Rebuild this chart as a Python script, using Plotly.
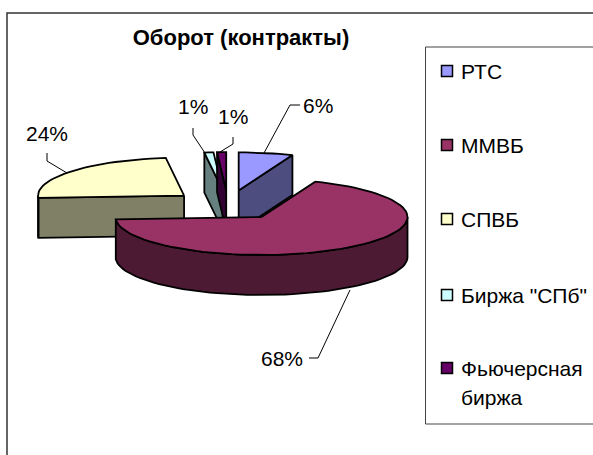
import math
import plotly.graph_objects as go

categories = ["РТС", "ММВБ", "СПВБ", 'Биржа "СПб"', "Фьючерсная<br>биржа"]
shares = [6, 68, 24, 1, 1]
percent_labels = ["6%", "68%", "24%", "1%", "1%"]
top_colors = ["#9999ff", "#993366", "#ffffcc", "#ccffff", "#660066"]
side_colors = ["#4d4d80", "#4d1a33", "#808066", "#668080", "#330033"]

# Pie geometry in pixels
CX, CY, RX, RY, DEPTH, EXPLODE = 228, 205, 146, 38, 40, 57
LINE = 1.8

fig = go.Figure()


def add_poly(pts, color, name):
    xs = [p[0] for p in pts] + [pts[0][0]]
    ys = [p[1] for p in pts] + [pts[0][1]]
    fig.add_trace(go.Scatter(x=xs, y=ys, mode="lines", fill="toself", fillcolor=color,
                             line=dict(color="black", width=LINE), name=name,
                             hoverinfo="name", showlegend=False))


def arc(ax, ay, t0, t1, dz=0):
    n = max(2, int(abs(t1 - t0) / 3) + 2)
    out = []
    for i in range(n):
        t = math.radians(t0 + (t1 - t0) * i / (n - 1))
        out.append((ax + RX * math.sin(t), ay - RY * math.cos(t) + dz))
    return out


# slice angles, clockwise from 12 o'clock
total = sum(shares)
angles = []
acc = 0
for v in shares:
    a0 = acc / total * 360
    acc += v
    angles.append((a0, acc / total * 360))

# painter's order: back slices first, front slice last
for i in [2, 3, 4, 0, 1]:
    t0, t1 = angles[i]
    mid = math.radians((t0 + t1) / 2)
    ax = CX + EXPLODE * math.sin(mid)
    ay = CY - EXPLODE * RY / RX * math.cos(mid)
    name = categories[i].replace("<br>", " ")
    # only the cut faces turned towards the viewer
    faces = []
    if math.sin(math.radians(t0)) < -1e-6:
        faces.append(t0)
    if math.sin(math.radians(t1)) > 1e-6:
        faces.append(t1)
    for t in faces:
        p = arc(ax, ay, t, t)[0]
        add_poly([(ax, ay), p, (p[0], p[1] + DEPTH), (ax, ay + DEPTH)], side_colors[i], name)
    w0, w1 = max(t0, 90), min(t1, 270)
    if w1 > w0:
        upper = arc(ax, ay, w0, w1)
        lower = arc(ax, ay, w1, w0, DEPTH)
        add_poly(upper + lower, side_colors[i], name)
    add_poly([(ax, ay)] + arc(ax, ay, t0, t1), top_colors[i], name)

# leader lines
leaders = [
    [(264, 153), (290, 105), (300, 105)],
    [(350, 290), (318, 358), (309, 358)],
    [(67, 173), (47, 161), (47, 153)],
    [(205, 153), (193, 135), (193, 128)],
    [(220, 152), (233, 144), (233, 137)],
]
for pts in leaders:
    fig.add_trace(go.Scatter(x=[p[0] for p in pts], y=[p[1] for p in pts], mode="lines",
                             line=dict(color="black", width=1), hoverinfo="skip", showlegend=False))

# percent labels
label_pos = [(318, 105), (282, 358), (47, 133), (193, 106), (233, 116)]
annotations = []
for txt, (x, y) in zip(percent_labels, label_pos):
    annotations.append(dict(x=x, y=y, text=txt, showarrow=False, xanchor="center", yanchor="middle",
                            font=dict(family="Liberation Sans", size=21, color="black")))

# legend rows
legend_y = [71, 145, 219, 295, 368]
fig.add_trace(go.Scatter(x=[447] * 5, y=legend_y, mode="markers",
                         marker=dict(symbol="square", size=11, color=top_colors,
                                     line=dict(color="black", width=1.5)),
                         hoverinfo="skip", showlegend=False))
for txt, y in zip(categories, legend_y):
    annotations.append(dict(x=459, y=y, text=txt.split("<br>")[0], showarrow=False, xanchor="left",
                            yanchor="middle", font=dict(family="Liberation Sans", size=21, color="black")))
annotations.append(dict(x=459, y=397, text="биржа", showarrow=False, xanchor="left", yanchor="middle",
                        font=dict(family="Liberation Sans", size=21, color="black")))

fig.update_layout(
    width=593, height=455, margin=dict(l=0, r=0, t=0, b=0),
    paper_bgcolor="white", plot_bgcolor="white", showlegend=False,
    title=dict(text="<b>Оборот (контракты)</b>", x=241 / 593, y=1 - 37 / 455, xanchor="center", yanchor="middle",
               font=dict(family="Liberation Sans", size=22, color="black")),
    xaxis=dict(range=[0, 593], visible=False, fixedrange=True),
    yaxis=dict(range=[455, 0], visible=False, fixedrange=True),
    annotations=annotations,
    shapes=[
        dict(type="rect", x0=7, y0=13, x1=600, y1=470, line=dict(color="#333333", width=1.5)),
        dict(type="rect", x0=425.5, y0=47, x1=600, y1=424, line=dict(color="#444444", width=1)),
    ],
)
fig.write_html("out.html", config={"displayModeBar": False},
               post_script="document.body.style.margin='0';document.body.style.overflow='hidden';")
